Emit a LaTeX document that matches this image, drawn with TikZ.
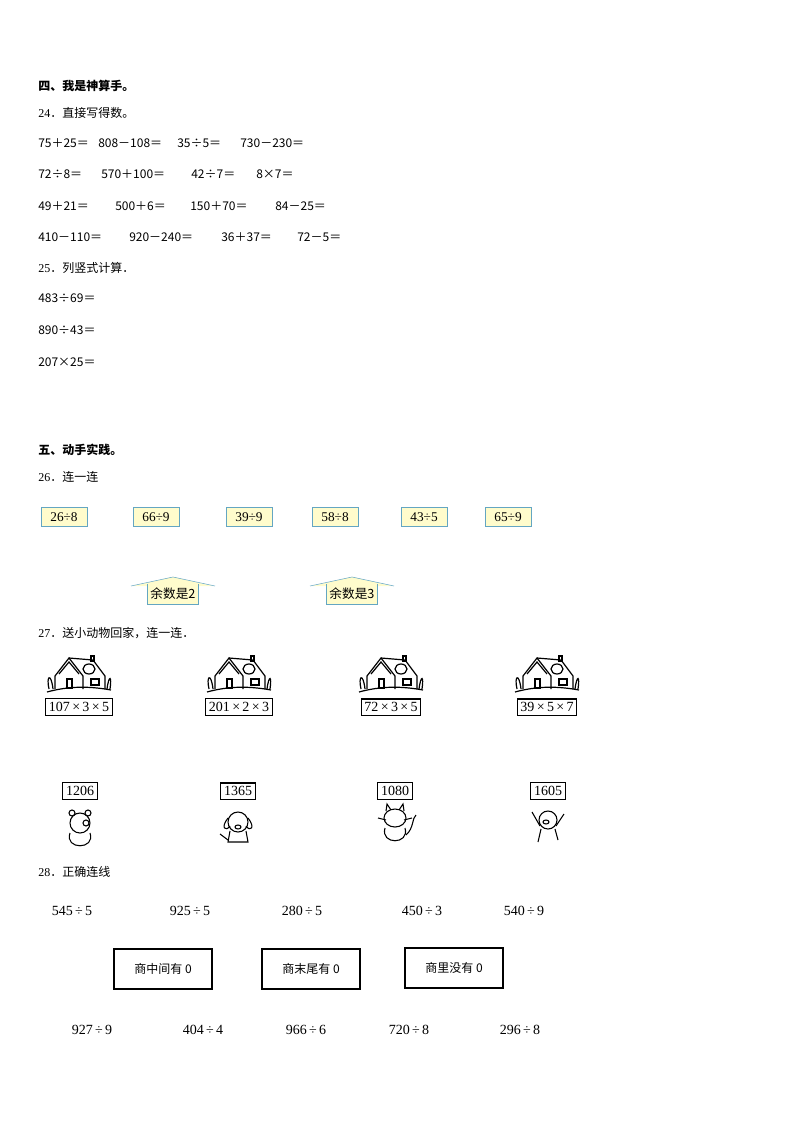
\documentclass[tikz,border=0pt]{standalone}
\usepackage{fontspec}
\setmainfont{Liberation Serif}
\newfontfamily\cjk{Noto Sans CJK SC}
\begin{document}
\begin{tikzpicture}[x=0.75pt,y=-0.75pt,font=\fontsize{9}{10}\selectfont,
 t/.style={anchor=west,inner sep=0},
 c/.style={anchor=west,inner sep=0,font=\cjk\fontsize{9}{10}\selectfont},
 ybox/.style={draw=cyan!50!gray,fill=yellow!20,inner sep=2pt,minimum width=46pt*0.75,minimum height=19pt*0.75,font=\fontsize{10}{11}\selectfont},
 bbox/.style={draw,thick,inner sep=2.5pt,font=\fontsize{10.5}{11}\selectfont},
 gbox/.style={draw,thick,minimum width=98pt*0.75,minimum height=40pt*0.75,font=\cjk\fontsize{9}{10}\selectfont}]
\useasboundingbox (0,0) rectangle (794,1123);
\node[t,font=\cjk\bfseries\fontsize{9}{10}\selectfont] (h4) at (38,86) {四、我是神算手。};
\node[t] (q24) at (38,113) {24{\cjk ．直接写得数。}};
\node[c] (a11) at (38,143) {75＋25＝};
\node[c] (a12) at (98,143) {808－108＝};
\node[c] (a13) at (177,143) {35÷5＝};
\node[c] (a14) at (240,143) {730－230＝};
\node[c] (a21) at (38,174) {72÷8＝};
\node[c] (a22) at (101,174) {570＋100＝};
\node[c] (a23) at (191,174) {42÷7＝};
\node[c] (a24) at (256,174) {8×7＝};
\node[c] (a31) at (38,206) {49＋21＝};
\node[c] (a32) at (115,206) {500＋6＝};
\node[c] (a33) at (190,206) {150＋70＝};
\node[c] (a34) at (275,206) {84－25＝};
\node[c] (a41) at (38,237) {410－110＝};
\node[c] (a42) at (129,237) {920－240＝};
\node[c] (a43) at (221,237) {36＋37＝};
\node[c] (a44) at (297,237) {72－5＝};
\node[t] (q25) at (38,268) {25{\cjk ．列竖式计算．}};
\node[c] (b1) at (38,298) {483÷69＝};
\node[c] (b2) at (38,330) {890÷43＝};
\node[c] (b3) at (38,362) {207×25＝};
\node[t,font=\cjk\bfseries\fontsize{9}{10}\selectfont] (h5) at (38,450) {五、动手实践。};
\node[t] (q26) at (38,477) {26{\cjk ．连一连}};
\foreach \n/\x/\s in {c1/64/26÷8,c2/156/66÷9,c3/249/39÷9,c4/335/58÷8,c5/424/43÷5,c6/508/65÷9}
  \node[ybox] (\n) at (\x,517) {\s};
\foreach \n/\x/\d in {r2/173/2,r3/352/3}{
  \fill[yellow!20] (\x-40,586) -- (\x,577) -- (\x+40,586) -- cycle;
  \node[ybox,draw=none,minimum width=0pt,font=\cjk\fontsize{9.5}{10}\selectfont] (\n) at (\x,594) {余数是\d};
  \draw[cyan!50!gray] (\x-42,586) -- (\x,577) -- (\x+42,586);
  \draw[cyan!50!gray] (\n.north west) -- (\n.south west) -- (\n.south east) -- (\n.north east);}
\node[t] (q27) at (38,633) {27{\cjk ．送小动物回家，连一连．}};
\foreach \n/\x/\s in {p1/79/107\,×\,3\,×\,5,p2/239/201\,×\,2\,×\,3,p3/391/72\,×\,3\,×\,5,p4/547/39\,×\,5\,×\,7}{
  \node[bbox] (\n) at (\x,707) {\s};
  \begin{scope}[shift={(\x,676)},line width=0.9pt]
   \draw (-32,16) .. controls (-10,10) and (10,10) .. (32,14);
   \draw (-24,13) -- (-24,0) -- (-10,-18) -- (4,0) -- (4,13);
   \draw (-10,-18) -- (14,-16) -- (26,0) -- (26,13);
   \draw (-20,-2) -- (-10,-14) -- (0,-2);
   \draw (-12,3) rectangle (-7,12); \draw (12,3) rectangle (20,9);
   \draw (10,-7) ellipse (6 and 5); \draw (12,-20) rectangle (15,-15);
   \draw (-30,13) .. controls (-33,0) and (-28,-4) .. (-26,13);
   \draw (28,13) .. controls (30,-2) and (33,0) .. (31,13);
  \end{scope}}
\foreach \n/\x/\s in {n1/80/1206,n2/238/1365,n3/395/1080,n4/548/1605}
  \node[bbox] (\n) at (\x,791) {\s};
\begin{scope}[line width=0.8pt]
 % bear
 \draw (80,823) circle (10); \draw (72,813) circle (3); \draw (88,813) circle (3);
 \draw (70,833) .. controls (64,850) and (96,850) .. (90,833);
 \draw (86,823) circle (3);
 % dog
 \draw (238,822) circle (10); \draw (228,818) .. controls (220,828) and (226,832) .. (230,826);
 \draw (248,818) .. controls (256,828) and (250,832) .. (246,826);
 \draw (238,827) ellipse (3 and 2);
 \draw (230,831) -- (228,842) -- (248,842) -- (246,831); \draw (228,840) -- (220,834);
 % cat
 \draw (395,818) ellipse (11 and 9); \draw (386,811) -- (387,804) -- (391,810); \draw (404,811) -- (403,804) -- (399,810);
 \draw (385,828) .. controls (380,845) and (410,845) .. (405,828);
 \draw (406,835) .. controls (414,828) and (412,818) .. (416,815);
 \draw (378,818) -- (386,820); \draw (404,820) -- (412,818);
 % pig
 \draw (548,820) circle (9); \draw (546,822) ellipse (3 and 2);
 \draw (541,829) -- (538,842); \draw (555,829) -- (558,840);
 \draw (540,826) -- (532,812); \draw (556,826) -- (564,814);
\end{scope}
\node[t] (q28) at (38,872) {28{\cjk ．正确连线}};
\foreach \n/\x/\s in {u1/72/545\,÷\,5,u2/190/925\,÷\,5,u3/302/280\,÷\,5,u4/422/450\,÷\,3,u5/524/540\,÷\,9}
  \node[font=\fontsize{10.5}{11}\selectfont] (\n) at (\x,911) {\s};
\node[gbox] (g1) at (163,969) {商中间有 0};
\node[gbox] (g2) at (311,969) {商末尾有 0};
\node[gbox] (g3) at (454,968) {商里没有 0};
\foreach \n/\x/\s in {l1/92/927\,÷\,9,l2/203/404\,÷\,4,l3/306/966\,÷\,6,l4/409/720\,÷\,8,l5/520/296\,÷\,8}
  \node[font=\fontsize{10.5}{11}\selectfont] (\n) at (\x,1030) {\s};
\end{tikzpicture}
\end{document}
